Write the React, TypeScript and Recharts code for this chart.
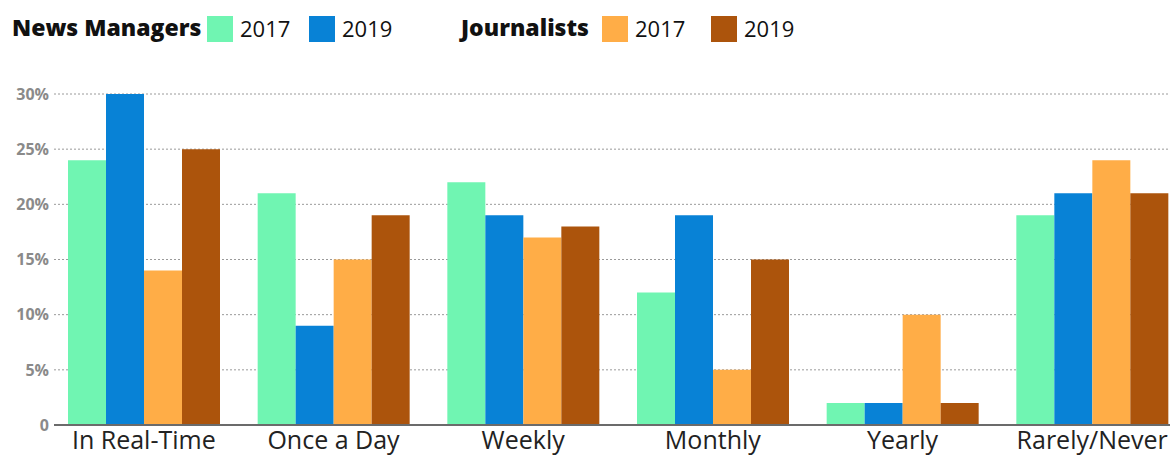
import { BarChart, Bar, XAxis, YAxis, CartesianGrid } from "recharts";

const categories = ["In Real-Time", "Once a Day", "Weekly", "Monthly", "Yearly", "Rarely/Never"];
const managers2017 = [24, 21, 22, 12, 2, 19];
const managers2019 = [30, 9, 19, 19, 2, 21];
const journalists2017 = [14, 15, 17, 5, 10, 24];
const journalists2019 = [25, 19, 18, 15, 2, 21];
const yTicks = [0, 5, 10, 15, 20, 25, 30];

const COLORS = {
  m17: "#70f5b2",
  m19: "#0882d6",
  j17: "#ffad47",
  j19: "#ac540c",
};

const data = categories.map((name, i) => ({
  name,
  m17: managers2017[i],
  m19: managers2019[i],
  j17: journalists2017[i],
  j19: journalists2019[i],
}));

const FONT = "'Open Sans', Lato, sans-serif";

// legend pieces, placed to line up with the original header
const legendItems = [
  { kind: "title", text: "News Managers", left: 12 },
  { kind: "swatch", color: COLORS.m17, left: 207 },
  { kind: "label", text: "2017", left: 240 },
  { kind: "swatch", color: COLORS.m19, left: 309 },
  { kind: "label", text: "2019", left: 342 },
  { kind: "title", text: "Journalists", left: 461 },
  { kind: "swatch", color: COLORS.j17, left: 602 },
  { kind: "label", text: "2017", left: 635 },
  { kind: "swatch", color: COLORS.j19, left: 711 },
  { kind: "label", text: "2019", left: 744 },
];

export default function App() {
  return (
    <div style={{ position: "absolute", left: 0, top: 0, width: 1170, height: 460, overflow: "hidden", background: "#fff", fontFamily: FONT }}>
      {/* Legend */}
      {legendItems.map((it, i) =>
        it.kind === "swatch" ? (
          <div key={i} style={{ position: "absolute", left: it.left, top: 16, width: 26, height: 26, background: it.color }} />
        ) : (
          <span
            key={i}
            style={{
              position: "absolute",
              left: it.left,
              top: it.kind === "title" ? 12 : 13,
              lineHeight: "30px",
              fontSize: it.kind === "title" ? 23 : 22,
              fontWeight: it.kind === "title" ? 800 : 400,
              color: "#111",
              whiteSpace: "nowrap",
            }}
          >
            {it.text}
          </span>
        )
      )}

      <div style={{ position: "absolute", left: 0, top: 0 }}>
        <BarChart
          width={1200}
          height={460}
          data={data}
          margin={{ top: 94, right: 13, bottom: 0, left: 0 }}
          barCategoryGap={19}
          barGap={0}
        >
          <CartesianGrid vertical={false} stroke="#9a9a9a" strokeDasharray="2 2" />
          <YAxis
            domain={[0, 30]}
            ticks={yTicks}
            width={54}
            axisLine={false}
            tickLine={false}
            tickSize={0}
            tickMargin={5}
            tickFormatter={(v: number) => (v === 0 ? "0" : `${v}%`)}
            tick={{ fontSize: 16, fontWeight: 700, fill: "#8a8a8a", fontFamily: FONT }}
          />
          <XAxis
            dataKey="name"
            height={35}
            padding={{ left: -5, right: 0 }}
            axisLine={{ stroke: "#6b6b6b", strokeWidth: 2 }}
            tickLine={false}
            tickSize={0}
            tickMargin={6}
            interval={0}
            tick={{ fontSize: 25, fill: "#222", fontFamily: FONT }}
          />
          <Bar dataKey="m17" fill={COLORS.m17} isAnimationActive={false} />
          <Bar dataKey="m19" fill={COLORS.m19} isAnimationActive={false} />
          <Bar dataKey="j17" fill={COLORS.j17} isAnimationActive={false} />
          <Bar dataKey="j19" fill={COLORS.j19} isAnimationActive={false} />
        </BarChart>
      </div>
    </div>
  );
}
